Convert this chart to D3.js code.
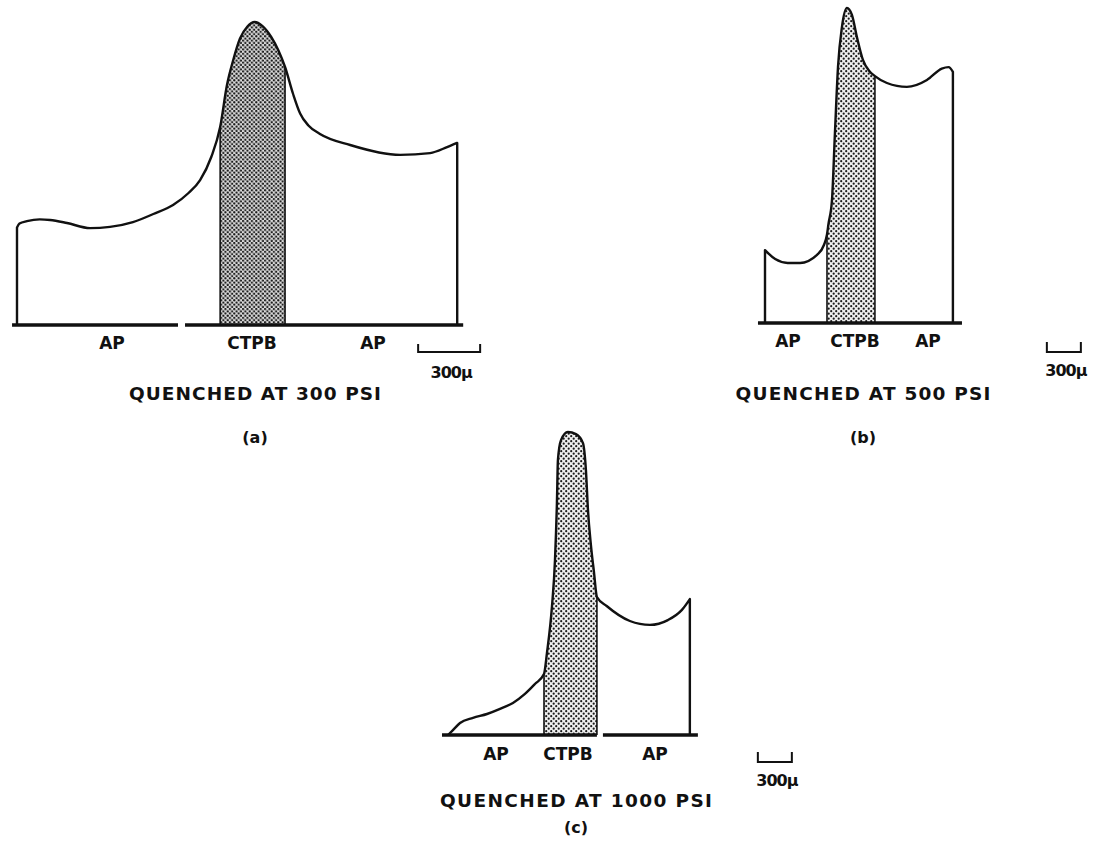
<!DOCTYPE html>
<html>
<head>
<meta charset="utf-8">
<script src="https://cdn.jsdelivr.net/npm/d3@7/dist/d3.min.js"></script>
<style>
  html, body { margin: 0; padding: 0; background: #fff; }
  svg { display: block; }
  text { font-family: "DejaVu Sans", "Liberation Sans", Arial, sans-serif; font-weight: bold; fill: #111; }
</style>
</head>
<body>
<svg id="chart" width="1094" height="845"></svg>
<script>
// ---- DATA (position in microns, relative height 0-100) ----
const profileA = [[0,32.5],[12,33.8],[48,34.6],[110,35.2],[160,35],[242,34],[353,32.3],[450,32.7],[561,34.3],[660,37],[755,40],[830,44],[886,48.3],[940,56],[983,66],[1016,80],[1045,88],[1079,95.5],[1115,99.5],[1150,101],[1188,99.6],[1230,96],[1265,91.5],[1297,86],[1336,77],[1370,70.5],[1410,66.5],[1466,63.7],[1612,60],[1854,56.7],[1999,57.3],[2081,59.3],[2130,60.7]];
const profileB = [[0,24.3],[90,21.3],[200,20],[309,20],[459,22.7],[520,26],[547,29.5],[560,33],[591,41],[617,63.3],[644,85.3],[679,98.7],[723,105],[767,102.7],[811,95.3],[864,87.7],[920,84],[970,82.3],[1076,80],[1252,78.7],[1429,81],[1560,84.8],[1620,85.3],[1658,83.7]];
const profileC = [[0,0],[35,1.3],[106,4],[221,5.7],[344,7],[459,8.7],[573,10.7],[679,13.7],[767,17],[847,20.3],[873,27.3],[917,42.7],[944,58.3],[961,77.3],[970,91.7],[997,98.3],[1058,101],[1129,100.3],[1191,97.3],[1217,88.3],[1235,75],[1261,63.3],[1288,54.3],[1314,46],[1400,43],[1605,38],[1782,36.7],[1940,38.3],[2064,41.7],[2134,45.3]];

const bandA = [983, 1297];
const bandB = [547, 970];
const bandC = [847, 1314];

const baselineA = [[-24, 779], [813, 2159]];
const baselineB = [[-62, 1738]];
const baselineC = [[-53, 1314], [1367, 2205]];

const scaleBarLen = 300;               // microns
const scaleBarStart = [1941, 2487, 2734];
const scaleBarLabel = "300\u03bc";

const zoneLabels = ["AP", "CTPB", "AP"];
const titles = ["QUENCHED AT 300 PSI", "QUENCHED AT 500 PSI", "QUENCHED AT 1000 PSI"];
const panelTags = ["(a)", "(b)", "(c)"];

// ---- LAYOUT ----
const panels = [
  { profile: profileA, band: bandA, baselines: baselineA, x0: 17, px300: 62, base: 325,
    labelX: [112, 252, 373], labelY: 349, barTop: 344, barBot: 352, barLabelY: 378,
    titleX: 255, titleY: 400, titleLen: 252, tagY: 443, pattern: "stippleA" },
  { profile: profileB, band: bandB, baselines: baselineB, x0: 765, px300: 34, base: 323,
    labelX: [788, 855, 928], labelY: 347, barTop: 342, barBot: 352, barLabelY: 376,
    titleX: 863, titleY: 400, titleLen: 255, tagY: 443, pattern: "stippleB" },
  { profile: profileC, band: bandC, baselines: baselineC, x0: 448, px300: 34, base: 735,
    labelX: [496, 568, 655], labelY: 760, barTop: 752, barBot: 762, barLabelY: 786,
    titleX: 576, titleY: 807, titleLen: 272, tagY: 833, pattern: "stippleB" }
];

const svg = d3.select("#chart");
const defs = svg.append("defs");

const pA = defs.append("pattern").attr("id", "stippleA").attr("width", 4.4).attr("height", 4.4)
  .attr("patternUnits", "userSpaceOnUse");
pA.append("rect").attr("width", 4.4).attr("height", 4.4).attr("fill", "#dcdcdc");
pA.append("circle").attr("cx", 1.1).attr("cy", 1.1).attr("r", 1.15).attr("fill", "#1a1a1a");
pA.append("circle").attr("cx", 3.3).attr("cy", 3.3).attr("r", 1.15).attr("fill", "#1a1a1a");

const pB = defs.append("pattern").attr("id", "stippleB").attr("width", 5).attr("height", 5)
  .attr("patternUnits", "userSpaceOnUse");
pB.append("rect").attr("width", 5).attr("height", 5).attr("fill", "#eeeeee");
pB.append("circle").attr("cx", 1.2).attr("cy", 1.2).attr("r", 1.1).attr("fill", "#1a1a1a");
pB.append("circle").attr("cx", 3.7).attr("cy", 3.7).attr("r", 1.1).attr("fill", "#1a1a1a");

panels.forEach((p, i) => {
  const x = d3.scaleLinear().domain([0, scaleBarLen]).range([p.x0, p.x0 + p.px300]);
  const y = d3.scaleLinear().domain([0, 100]).range([p.base, p.base - 300]);
  const g = svg.append("g");
  const curve = d3.curveMonotoneX;

  // stippled CTPB band
  const clipId = "clip" + i;
  defs.append("clipPath").attr("id", clipId).append("rect")
    .attr("x", x(p.band[0])).attr("y", 0)
    .attr("width", x(p.band[1]) - x(p.band[0])).attr("height", y(0));
  const area = d3.area().x(d => x(d[0])).y0(y(0)).y1(d => y(d[1])).curve(curve);
  g.append("path").attr("d", area(p.profile)).attr("fill", `url(#${p.pattern})`)
    .attr("clip-path", `url(#${clipId})`);

  // band edges
  p.band.forEach(b => {
    const pt = p.profile.find(d => d[0] === b);
    g.append("line").attr("x1", x(b)).attr("x2", x(b)).attr("y1", y(0)).attr("y2", y(pt[1]))
      .attr("stroke", "#111").attr("stroke-width", 1.6);
  });

  // outline
  const line = d3.line().x(d => x(d[0])).y(d => y(d[1])).curve(curve);
  const first = p.profile[0], last = p.profile[p.profile.length - 1];
  const d = `M${x(first[0])},${y(0)}L` + line(p.profile).slice(1) + `L${x(last[0])},${y(0)}`;
  g.append("path").attr("d", d).attr("fill", "none").attr("stroke", "#111")
    .attr("stroke-width", 2.4).attr("stroke-linejoin", "round");

  // baselines
  p.baselines.forEach(s => {
    g.append("line").attr("x1", x(s[0])).attr("x2", x(s[1])).attr("y1", y(0)).attr("y2", y(0))
      .attr("stroke", "#111").attr("stroke-width", 3.4);
  });

  // zone labels
  zoneLabels.forEach((t, k) => {
    g.append("text").attr("x", p.labelX[k]).attr("y", p.labelY).attr("text-anchor", "middle")
      .attr("font-size", 17).text(t);
  });

  // scale bar
  const b0 = x(scaleBarStart[i]), b1 = x(scaleBarStart[i] + scaleBarLen);
  g.append("path").attr("d", `M${b0},${p.barTop}L${b0},${p.barBot}L${b1},${p.barBot}L${b1},${p.barTop}`)
    .attr("fill", "none").attr("stroke", "#111").attr("stroke-width", 2);
  g.append("text").attr("x", (b0 + b1) / 2 + 2).attr("y", p.barLabelY).attr("text-anchor", "middle")
    .attr("font-size", 16).attr("letter-spacing", -1).text(scaleBarLabel);

  // title and tag
  g.append("text").attr("x", p.titleX - p.titleLen / 2).attr("y", p.titleY)
    .attr("font-size", 18.5).attr("textLength", p.titleLen).attr("lengthAdjust", "spacing")
    .text(titles[i]);
  g.append("text").attr("x", p.titleX).attr("y", p.tagY).attr("text-anchor", "middle")
    .attr("font-size", 16).text(panelTags[i]);
});
</script>
</body>
</html>
